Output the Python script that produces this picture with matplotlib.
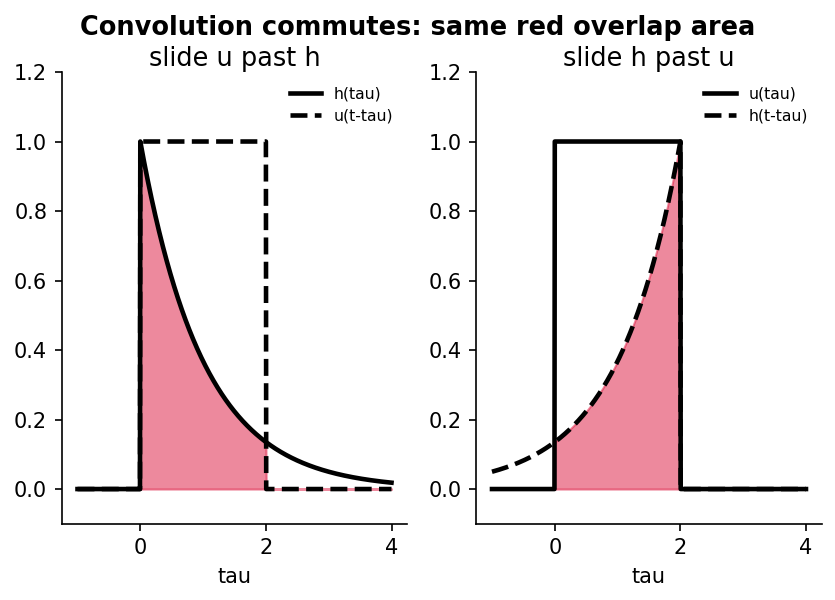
import matplotlib
matplotlib.use('Agg')
import matplotlib.pyplot as plt
import numpy as np

# time shift and kernel settings
t_shift = 2.0
decay_rate = 1.0
box_start = 0.0
box_end = 2.0
tau_min = -1.0
tau_max = 4.0
n_points = 1001

titles = ['slide u past h', 'slide h past u']
left_labels = ['h(tau)', 'u(t-tau)']
right_labels = ['u(tau)', 'h(t-tau)']
y_ticks = [0.0, 0.2, 0.4, 0.6, 0.8, 1.0, 1.2]
x_ticks = [0, 2, 4]

tau = np.linspace(tau_min, tau_max, n_points)


def h(x):
    return np.where(x >= 0, np.exp(-decay_rate * x), 0.0)


def u(x):
    return np.where((x >= box_start) & (x <= box_end), 1.0, 0.0)


fig, axes = plt.subplots(1, 2, figsize=(5.567, 4), dpi=150)
fill_color = 'crimson'
lw = 2.2

# left: h fixed, u flipped and shifted
ax = axes[0]
ax.plot(tau, h(tau), color='black', lw=lw, label=left_labels[0])
ax.plot(tau, u(t_shift - tau), color='black', lw=lw, ls='--', label=left_labels[1])
ax.fill_between(tau, h(tau) * u(t_shift - tau), color=fill_color, alpha=0.5)

# right: u fixed, h flipped and shifted
ax = axes[1]
ax.plot(tau, u(tau), color='black', lw=lw, label=right_labels[0])
ax.plot(tau, h(t_shift - tau), color='black', lw=lw, ls='--', label=right_labels[1])
ax.fill_between(tau, u(tau) * h(t_shift - tau), color=fill_color, alpha=0.5)

for ax, title in zip(axes, titles):
    ax.set_title(title, fontsize=12.3, pad=3)
    ax.set_xlabel('tau', fontsize=10)
    ax.set_ylim(-0.1, 1.2)
    ax.set_yticks(y_ticks)
    ax.set_xticks(x_ticks)
    ax.tick_params(labelsize=10)
    ax.spines['top'].set_visible(False)
    ax.spines['right'].set_visible(False)
    ax.legend(frameon=False, fontsize=7.5, loc='upper right')

fig.suptitle('Convolution commutes: same red overlap area', fontsize=12.3, fontweight='bold', y=0.975)
plt.subplots_adjust(left=0.074, right=0.984, bottom=0.127, top=0.88, wspace=0.2)
plt.savefig('out.png')
